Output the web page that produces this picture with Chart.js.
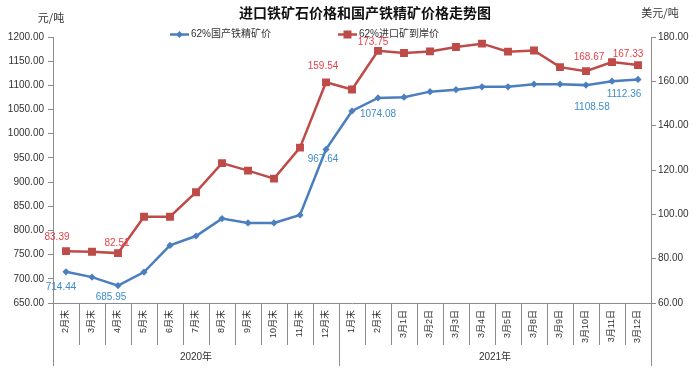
<!DOCTYPE html>
<html><head><meta charset="utf-8">
<script src="https://cdn.jsdelivr.net/npm/chart.js@4"></script>
<style>html,body{margin:0;padding:0;background:#fff}#wrap{width:697px;height:375px;position:relative}</style>
</head><body><div id="wrap"><canvas id="c" width="697" height="375"></canvas></div>
<script>
const categories = ['2月末','3月末','4月末','5月末','6月末','7月末','8月末','9月末','10月末','11月末','12月末','1月末','2月末','3月1日','3月2日','3月3日','3月4日','3月5日','3月8日','3月9日','3月10日','3月11日','3月12日'];
const yearGroups = ['2020年','2021年'];
const yearGroupSizes = [11, 12];
const domesticName = '62%国产铁精矿价';
const importName = '62%进口矿到岸价';
const domesticPrice = [714.44, 703.5, 685.95, 714, 769, 788.5, 824.5, 815.5, 815.5, 832, 967.64, 1047, 1074.08, 1075.5, 1087, 1091, 1097, 1097, 1102.5, 1102.5, 1100.5, 1108.58, 1112.36];
const importPrice = [83.39, 83.1, 82.51, 98.9, 98.9, 110, 123.1, 119.7, 116.1, 130.1, 159.54, 156.3, 173.75, 172.8, 173.5, 175.5, 177.0, 173.4, 173.9, 166.4, 164.6, 168.67, 167.33];
const leftTickRange = [650, 1200, 50];
const rightTickRange = [60, 180, 20];
const domesticLabelIdx = [0, 2, 10, 12, 21, 22];
const importLabelIdx = [0, 2, 10, 12, 21, 22];
const titleText = '进口铁矿石价格和国产铁精矿价格走势图';
const leftUnit = '元/吨';
const rightUnit = '美元/吨';

const BLUE = '#4A7EBF', RED = '#BE4B48';
const BLUE_LBL = '#3D8CCB', RED_LBL = '#E8414B';
const AXIS = '#8C8C8C', TXT = '#333333';
const NUMFONT = '"Liberation Sans", "Noto Sans CJK SC", sans-serif';
const CJKFONT = '"Noto Sans CJK SC", sans-serif';
// label offsets (styling, px)
const domesticLabelOffsets = [[-5,15],[-7,12],[-3,10],[0,16],[-20,26],[-14,15]];
const importLabelOffsets = [[-9,-14],[-1,-10],[-3,-16],[-5,-9],[-23,-5],[-10,-11]];

const decor = {
  id: 'decor',
  afterDraw(chart) {
    const ctx = chart.ctx;
    const xs = chart.scales.x, ya = chart.scales.y, yb = chart.scales.y1;
    const ca = chart.chartArea;
    ctx.save();
    // title
    ctx.fillStyle = '#111';
    ctx.textAlign = 'center'; ctx.textBaseline = 'middle';
    ctx.font = 'bold 14px ' + CJKFONT;
    ctx.fillText(titleText, 365, 13);
    // units
    ctx.font = '11px ' + CJKFONT;
    ctx.fillStyle = TXT;
    ctx.fillText(leftUnit, 51, 18);
    ctx.fillText(rightUnit, 660, 13);
    // legend
    const ly = 34.5;
    function legendItem(x0, color, style, text) {
      ctx.strokeStyle = color; ctx.lineWidth = 2.5;
      ctx.beginPath(); ctx.moveTo(x0, ly); ctx.lineTo(x0 + 19, ly); ctx.stroke();
      ctx.fillStyle = color;
      const cx = x0 + 9.5;
      ctx.beginPath();
      if (style === 'rect') { ctx.rect(cx - 4, ly - 4, 8, 8); }
      else { ctx.moveTo(cx, ly - 3.5); ctx.lineTo(cx + 3.5, ly); ctx.lineTo(cx, ly + 3.5); ctx.lineTo(cx - 3.5, ly); ctx.closePath(); }
      ctx.fill();
      ctx.fillStyle = TXT; ctx.textAlign = 'left';
      ctx.font = '10px ' + NUMFONT;
      ctx.fillText(text, x0 + 21, ly);
    }
    legendItem(170, BLUE, 'rectRot', domesticName);
    legendItem(338, RED, 'rect', importName);
    // category separators
    const half = (xs.getPixelForValue(1) - xs.getPixelForValue(0)) / 2;
    const bottom = ca.bottom;
    const groupBounds = [0];
    yearGroupSizes.reduce((a, n) => { groupBounds.push(a + n); return a + n; }, 0);
    ctx.strokeStyle = AXIS; ctx.lineWidth = 1;
    for (let i = 0; i <= categories.length; i++) {
      const x = Math.round(xs.getPixelForValue(i) - half) + 0.5;
      const isGroup = groupBounds.includes(i);
      ctx.beginPath(); ctx.moveTo(x, bottom); ctx.lineTo(x, isGroup ? 366 : 345); ctx.stroke();
    }
    // group labels
    ctx.fillStyle = TXT; ctx.textAlign = 'center'; ctx.textBaseline = 'middle';
    ctx.font = '10px ' + NUMFONT;
    for (let g = 0; g < yearGroups.length; g++) {
      const a = groupBounds[g], b = groupBounds[g + 1] - 1;
      const cx = (xs.getPixelForValue(a) + xs.getPixelForValue(b)) / 2;
      ctx.fillText(yearGroups[g], cx, 357);
    }
    // data labels
    ctx.font = '10px ' + NUMFONT;
    domesticLabelIdx.forEach((i, k) => {
      const x = xs.getPixelForValue(i), y = ya.getPixelForValue(domesticPrice[i]);
      ctx.fillStyle = BLUE_LBL;
      ctx.fillText(domesticPrice[i].toFixed(2), x + domesticLabelOffsets[k][0], y + domesticLabelOffsets[k][1]);
    });
    importLabelIdx.forEach((i, k) => {
      const x = xs.getPixelForValue(i), y = yb.getPixelForValue(importPrice[i]);
      ctx.fillStyle = RED_LBL;
      ctx.fillText(importPrice[i].toFixed(2), x + importLabelOffsets[k][0], y + importLabelOffsets[k][1]);
    });
    ctx.restore();
  }
};

new Chart(document.getElementById('c'), {
  type: 'line',
  data: {
    labels: categories,
    datasets: [
      { label: domesticName, data: domesticPrice, yAxisID: 'y', borderColor: BLUE, backgroundColor: BLUE,
        borderWidth: 2.5, pointStyle: 'rectRot', pointRadius: 3.6, pointBorderWidth: 0, tension: 0 },
      { label: importName, data: importPrice, yAxisID: 'y1', borderColor: RED, backgroundColor: RED,
        borderWidth: 2.5, pointStyle: 'rect', pointRadius: 5.6, pointBorderWidth: 0, tension: 0 }
    ]
  },
  options: {
    responsive: false, animation: false, devicePixelRatio: 1,
    layout: { padding: { top: 37, left: 0, right: 0, bottom: 0 } },
    plugins: { legend: { display: false }, title: { display: false }, tooltip: { enabled: false } },
    scales: {
      x: {
        type: 'category', offset: true,
        grid: { display: false, drawTicks: false, tickLength: 0 },
        border: { display: true, color: AXIS },
        ticks: { minRotation: 90, maxRotation: 90, autoSkip: false, color: TXT, padding: 7,
                 font: { size: 9, family: NUMFONT } },
        afterFit(s) { s.height = 72; }
      },
      y: {
        position: 'left', min: leftTickRange[0], max: leftTickRange[1],
        grid: { drawOnChartArea: false, tickLength: 5, color: AXIS },
        border: { display: true, color: AXIS },
        ticks: { stepSize: leftTickRange[2], color: TXT, padding: 4, font: { size: 10, family: NUMFONT },
                 callback: v => Number(v).toFixed(2) },
        afterFit(s) { s.width = 53; }
      },
      y1: {
        position: 'right', min: rightTickRange[0], max: rightTickRange[1],
        grid: { drawOnChartArea: false, tickLength: 5, color: AXIS },
        border: { display: true, color: AXIS },
        ticks: { stepSize: rightTickRange[2], color: TXT, padding: 2, font: { size: 10, family: NUMFONT },
                 callback: v => Number(v).toFixed(2) },
        afterFit(s) { s.width = 46; }
      }
    }
  },
  plugins: [decor]
});
</script>
</body></html>
